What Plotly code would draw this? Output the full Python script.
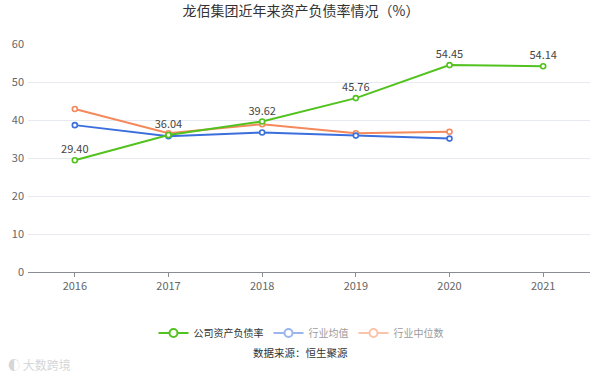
import plotly.graph_objects as go

years = ["2016", "2017", "2018", "2019", "2020", "2021"]
company = [29.40, 36.04, 39.62, 45.76, 54.45, 54.14]
industry_avg = [38.65, 35.75, 36.7, 35.9, 35.1, None]
industry_median = [42.9, 36.5, 38.9, 36.5, 36.9, None]

GREEN = "#52c21f"
BLUE = "#3b6fdd"
ORANGE = "#f4895c"

H = 377.0

fig = go.Figure()

def add_series(name, ys, color, labels=False):
    fig.add_trace(go.Scatter(
        x=years, y=ys, name=name, mode="lines+markers+text" if labels else "lines+markers",
        line=dict(color=color, width=2),
        marker=dict(symbol="circle", size=5, color="white", line=dict(color=color, width=1.6)),
        text=[f"{v:.2f}" for v in ys] if labels else None,
        textposition="top center",
        textfont=dict(size=11, color="#444"),
        showlegend=False, cliponaxis=False, hoverinfo="x+y",
    ))

add_series("行业中位数", industry_median, ORANGE)
add_series("行业均值", industry_avg, BLUE)
add_series("公司资产负债率", company, GREEN, labels=True)

# legend entries
for name, color, vis in [("公司资产负债率", GREEN, True), ("行业均值", BLUE, "legendonly"), ("行业中位数", ORANGE, "legendonly")]:
    fig.add_trace(go.Scatter(
        x=[None], y=[None], name=name, mode="lines+markers", visible=vis,
        line=dict(color=color, width=2),
        marker=dict(symbol="circle", size=8, color="white", line=dict(color=color, width=2)),
        showlegend=True,
    ))

fig.update_layout(
    width=602, height=377,
    margin=dict(l=28, r=12, t=44, b=105, autoexpand=False),
    paper_bgcolor="white", plot_bgcolor="white",
    font=dict(family="Noto Sans CJK SC, sans-serif", size=11, color="#666"),
    title=dict(text="龙佰集团近年来资产负债率情况（%）", x=0.5, xanchor="center",
               y=1 - 11 / H, yanchor="middle",
               font=dict(size=14, color="#333")),
    xaxis=dict(type="category", range=[-0.5, 5.5], showgrid=False, automargin=False,
               showline=True, linecolor="#8a8d94", linewidth=1,
               ticks="outside", ticklen=4, tickcolor="#8a8d94",
               tickfont=dict(size=11, color="#666"), fixedrange=True),
    yaxis=dict(range=[0, 60], dtick=10, showgrid=True, gridcolor="#e6e9f0", automargin=False,
               zeroline=False, showline=False, ticks="",
               tickfont=dict(size=11, color="#666"), ticklabelstandoff=3, fixedrange=True),
    legend=dict(orientation="h", xref="container", x=0.5, xanchor="center", yref="container",
                y=1 - 333 / H, yanchor="middle",
                font=dict(size=10, color="#333"), itemclick=False, itemdoubleclick=False,
                bgcolor="rgba(0,0,0,0)", itemwidth=30),
    annotations=[
        dict(text="数据来源：恒生聚源", xref="paper", yref="paper", x=(300.5 - 28) / 562,
             y=(272 - 352) / 228,
             xanchor="center", yanchor="middle", showarrow=False,
             font=dict(size=10.5, color="#333")),
        dict(text="◐ 大数跨境", xref="paper", yref="paper", x=(6 - 28) / 562, y=(272 - 364) / 228,
             xanchor="left", yanchor="middle", showarrow=False,
             font=dict(size=12, color="#d6d6d6")),
    ],
)

fig.write_html("out.html", post_script="document.body.style.margin='0';",
               config={"displayModeBar": False})
